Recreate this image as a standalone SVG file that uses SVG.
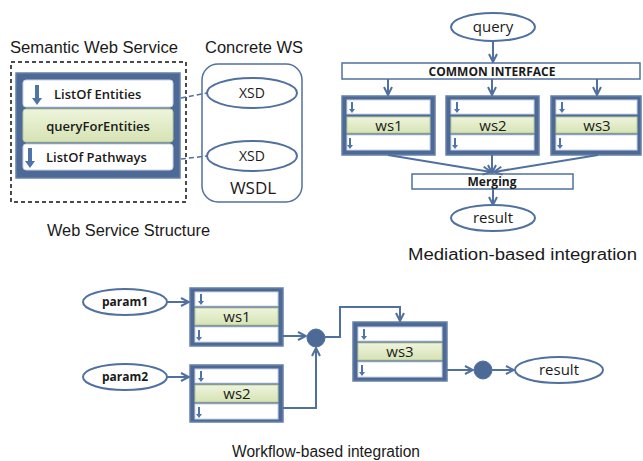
<svg xmlns="http://www.w3.org/2000/svg" width="643" height="461" viewBox="0 0 643 461">
<defs>
<style>
.title{font-family:"Liberation Sans",Arial,sans-serif;font-size:16px;fill:#1a1a1a}
.lbl{font-family:"Open Sans","Noto Sans",sans-serif;font-size:13px;fill:#1a1a1a}
.big{font-size:15px}
.xsd{font-size:14px}
.wsdl{font-size:17px}
.bold{font-family:"Open Sans","Noto Sans",sans-serif;font-size:12px;font-weight:bold;fill:#1a1a1a}
.ell{fill:#fff;stroke:#50709f;stroke-width:2}
.dark{fill:#4d6a96;stroke:#6680a8;stroke-width:1.5}
.row{fill:#fff;stroke:#c9d3e3;stroke-width:1}
.green{fill:url(#g);stroke:#b9c99a;stroke-width:1}
.wbox{fill:#fff;stroke:#50709f;stroke-width:1.5}
.con{fill:none;stroke:#50709f;stroke-width:2}
.dash{fill:none;stroke:#50709f;stroke-width:1.5;stroke-dasharray:5,3}
.icon{fill:#4f74a8}
</style>
<linearGradient id="g" x1="0" y1="0" x2="0" y2="1">
<stop offset="0" stop-color="#eef4dc"/>
<stop offset="1" stop-color="#d6e3b4"/>
</linearGradient>
<marker id="ah" viewBox="0 0 10 10" refX="9" refY="5" markerWidth="5" markerHeight="5" orient="auto" markerUnits="strokeWidth">
<path d="M1,1 L9,5 L1,9" fill="none" stroke="#50709f" stroke-width="2"/>
</marker>
<symbol id="bigarrow" viewBox="0 0 10 20" overflow="visible">
<path d="M3,0 H7 V13 H10 L5,20 L0,13 H3 Z"/>
</symbol>
<symbol id="smallarrow" viewBox="0 0 6 11" overflow="visible">
<path d="M2,0 H4 V7 H6 L3,11 L0,7 H2 Z"/>
</symbol>
</defs>

<!-- Top-left: Web service structure -->
<g id="sws">
<text class="title" x="10" y="53" textLength="168" lengthAdjust="spacingAndGlyphs">Semantic Web Service</text>
<rect x="11" y="62" width="175" height="140" fill="none" stroke="#111" stroke-width="1.5" stroke-dasharray="4,3"/>
<rect class="dark" x="16" y="73" width="164" height="105"/>
<rect class="row" x="23" y="80" width="150" height="27" rx="3"/>
<use href="#bigarrow" class="icon" x="32" y="85" width="10" height="20"/>
<text class="lbl" x="54" y="99" font-weight="600">ListOf Entities</text>
<rect class="green" x="23" y="109" width="150" height="33" rx="3"/>
<text class="lbl" x="98" y="131" text-anchor="middle" font-weight="600">queryForEntities</text>
<rect class="row" x="23" y="144" width="150" height="26" rx="3"/>
<use href="#bigarrow" class="icon" x="25" y="148" width="10" height="20"/>
<text class="lbl" x="46" y="162" font-weight="600">ListOf Pathways</text>
<text class="title" x="47" y="236" textLength="163" lengthAdjust="spacingAndGlyphs">Web Service Structure</text>
</g>

<g id="cws">
<text class="title" x="205" y="53" textLength="98" lengthAdjust="spacingAndGlyphs">Concrete WS</text>
<rect x="202" y="64" width="100" height="138" rx="16" fill="#fff" stroke="#50709f" stroke-width="1.5"/>
<ellipse class="ell" cx="252" cy="93" rx="45" ry="15"/>
<text class="lbl xsd" x="252" y="98" text-anchor="middle">XSD</text>
<ellipse class="ell" cx="252" cy="156" rx="45" ry="15"/>
<text class="lbl xsd" x="252" y="161" text-anchor="middle">XSD</text>
<text class="lbl wsdl" x="253" y="194" text-anchor="middle">WSDL</text>
</g>

<!-- Top-right: mediation -->
<g id="m-query">
<ellipse class="ell" cx="493" cy="27" rx="42" ry="14"/>
<text class="lbl big" x="493" y="32" text-anchor="middle">query</text>
</g>
<g id="m-ci">
<rect class="wbox" x="342" y="63" width="298" height="16"/>
<text class="bold" x="492" y="76" text-anchor="middle">COMMON INTERFACE</text>
</g>
<g id="m-ws1">
<rect class="dark" x="342" y="96" width="93" height="59"/>
<rect class="row" x="347" y="100" width="83" height="14"/>
<use href="#smallarrow" class="icon" x="349" y="102" width="6" height="11"/>
<rect class="green" x="347" y="117" width="83" height="16"/>
<text class="lbl big" x="389" y="131" text-anchor="middle">ws1</text>
<rect class="row" x="347" y="135" width="83" height="15"/>
<use href="#smallarrow" class="icon" x="347" y="138" width="6" height="11"/>
</g>
<g id="m-ws2">
<rect class="dark" x="446" y="96" width="93" height="59"/>
<rect class="row" x="451" y="100" width="83" height="14"/>
<use href="#smallarrow" class="icon" x="454" y="102" width="6" height="11"/>
<rect class="green" x="451" y="117" width="83" height="16"/>
<text class="lbl big" x="493" y="131" text-anchor="middle">ws2</text>
<rect class="row" x="451" y="135" width="83" height="15"/>
<use href="#smallarrow" class="icon" x="452" y="138" width="6" height="11"/>
</g>
<g id="m-ws3">
<rect class="dark" x="551" y="96" width="90" height="59"/>
<rect class="row" x="556" y="100" width="81" height="14"/>
<use href="#smallarrow" class="icon" x="559" y="102" width="6" height="11"/>
<rect class="green" x="556" y="117" width="81" height="16"/>
<text class="lbl big" x="597" y="131" text-anchor="middle">ws3</text>
<rect class="row" x="556" y="135" width="81" height="15"/>
<use href="#smallarrow" class="icon" x="557" y="138" width="6" height="11"/>
</g>
<g id="m-merge">
<rect class="wbox" x="412" y="174" width="161" height="15"/>
<text class="bold" x="492" y="186" text-anchor="middle">Merging</text>
</g>
<g id="m-result">
<ellipse class="ell" cx="493" cy="218" rx="42" ry="13"/>
<text class="lbl big" x="493" y="223" text-anchor="middle">result</text>
</g>
<text class="title" x="408" y="260" textLength="229" lengthAdjust="spacingAndGlyphs">Mediation-based integration</text>

<!-- Bottom: workflow -->
<g id="w-param1">
<ellipse class="ell" cx="125" cy="302" rx="42" ry="13"/>
<text class="bold" x="125" y="306" text-anchor="middle">param1</text>
</g>
<g id="w-param2">
<ellipse class="ell" cx="125" cy="377" rx="42" ry="13"/>
<text class="bold" x="125" y="381" text-anchor="middle">param2</text>
</g>
<g id="w-ws1">
<rect class="dark" x="190" y="288" width="93" height="58"/>
<rect class="row" x="195" y="292" width="83" height="14"/>
<use href="#smallarrow" class="icon" x="198" y="294" width="6" height="11"/>
<rect class="green" x="195" y="308" width="83" height="17"/>
<text class="lbl big" x="237" y="322" text-anchor="middle">ws1</text>
<rect class="row" x="195" y="327" width="83" height="15"/>
<use href="#smallarrow" class="icon" x="196" y="330" width="6" height="11"/>
</g>
<g id="w-ws2">
<rect class="dark" x="190" y="365" width="93" height="57"/>
<rect class="row" x="195" y="369" width="83" height="14"/>
<use href="#smallarrow" class="icon" x="198" y="371" width="6" height="11"/>
<rect class="green" x="195" y="385" width="83" height="17"/>
<text class="lbl big" x="237" y="399" text-anchor="middle">ws2</text>
<rect class="row" x="195" y="404" width="83" height="15"/>
<use href="#smallarrow" class="icon" x="196" y="407" width="6" height="11"/>
</g>
<g id="w-j1">
<circle cx="316" cy="338" r="9" fill="#4d6a96" stroke="#50709f" stroke-width="1"/>
</g>
<g id="w-ws3">
<rect class="dark" x="353" y="322" width="94" height="59"/>
<rect class="row" x="358" y="327" width="84" height="14"/>
<use href="#smallarrow" class="icon" x="361" y="329" width="6" height="11"/>
<rect class="green" x="358" y="343" width="84" height="17"/>
<text class="lbl big" x="400" y="357" text-anchor="middle">ws3</text>
<rect class="row" x="358" y="362" width="84" height="15"/>
<use href="#smallarrow" class="icon" x="359" y="365" width="6" height="11"/>
</g>
<g id="w-j2">
<circle cx="483" cy="370" r="9" fill="#4d6a96" stroke="#50709f" stroke-width="1"/>
</g>
<g id="w-result">
<ellipse class="ell" cx="559" cy="370" rx="44" ry="13"/>
<text class="lbl big" x="559" y="375" text-anchor="middle">result</text>
</g>
<text class="title" x="232" y="457" textLength="188" lengthAdjust="spacingAndGlyphs">Workflow-based integration</text>

<g id="connectors">
<path class="dash" d="M181,98 L207,93"/>
<path class="dash" d="M181,159 L207,156"/>
<path class="con" d="M493,41 V62" marker-end="url(#ah)"/>
<path class="con" d="M388,79 V95" marker-end="url(#ah)"/>
<path class="con" d="M492,79 V95" marker-end="url(#ah)"/>
<path class="con" d="M597,79 V95" marker-end="url(#ah)"/>
<path class="con" d="M388,155 L491,172" marker-end="url(#ah)"/>
<path class="con" d="M492,155 V173" marker-end="url(#ah)"/>
<path class="con" d="M598,155 L494,172" marker-end="url(#ah)"/>
<path class="con" d="M493,189 V205" marker-end="url(#ah)"/>
<path class="con" d="M167,302 H189" marker-end="url(#ah)"/>
<path class="con" d="M167,377 H189" marker-end="url(#ah)"/>
<path class="con" d="M283,336 H306" marker-end="url(#ah)"/>
<path class="con" d="M283,408 H316 V348" marker-end="url(#ah)"/>
<path class="con" d="M325,337 H340 V307 H400 V321" marker-end="url(#ah)"/>
<path class="con" d="M447,370 H473" marker-end="url(#ah)"/>
<path class="con" d="M492,370 H514" marker-end="url(#ah)"/>
</g>
</svg>
